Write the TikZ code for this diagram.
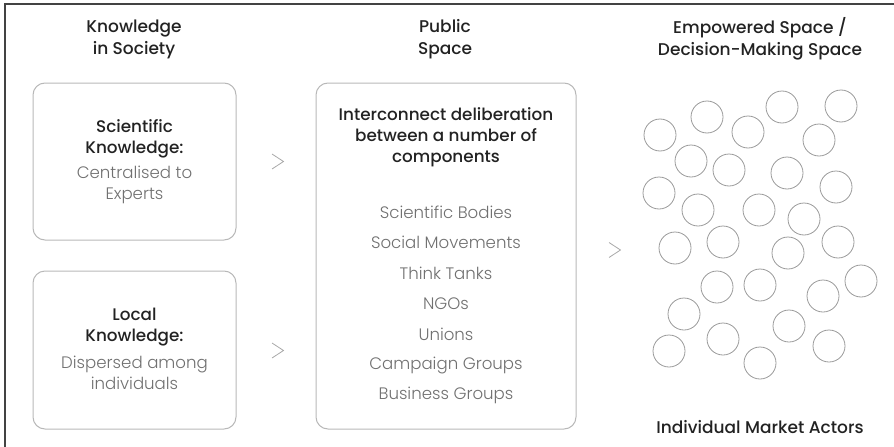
\documentclass[tikz,border=0pt]{standalone}
\usepackage{fontspec}
\setmainfont{Poppins}[UprightFont={Poppins Light},BoldFont={Poppins Medium}]
\definecolor{ink}{HTML}{222222}
\definecolor{soft}{HTML}{707070}
\definecolor{boxline}{HTML}{B8B8B8}
\definecolor{ringline}{HTML}{9A9A9A}
\definecolor{chev}{HTML}{A8A8A8}
\begin{document}
\begin{tikzpicture}[x=1pt,y=-1pt,
  head/.style={text=ink,font=\bfseries\fontsize{17}{22}\selectfont,align=center,inner sep=0pt},
  bold/.style={text=ink,font=\bfseries\fontsize{16.8}{21}\selectfont,align=center,inner sep=0pt},
  grey/.style={text=soft,font=\fontsize{16.6}{20.5}\selectfont,align=center,inner sep=0pt},
  panel/.style={draw=boxline,line width=1pt,rounded corners=12pt},
  ring/.style={draw=ringline,line width=0.8pt,circle,minimum size=32pt,inner sep=0pt},
  chevron/.style={draw=chev,line width=0.8pt}]
\useasboundingbox (0,0) rectangle (894,447);
\draw[line width=1.6pt,color=ink!85] (5,447) -- (5,4) -- (894,4);
% headings
\node[head] (h1) at (134,39) {Knowledge\\in Society};
\node[head] (h2) at (445,39) {Public\\Space};
\node[head] (h3) at (760,38.5) {Empowered Space /\\Decision-Making Space};
% panels
\draw[panel] (33,83) rectangle (236,240);
\draw[panel] (33,271) rectangle (236,429);
\draw[panel] (316,83) rectangle (576,429);
% panel 1
\node[bold] (s1) at (134.5,139) {Scientific\\Knowledge:};
\node[grey] (s2) at (134.5,185) {Centralised to\\Experts};
% panel 2
\node[bold] (l1) at (134.5,327) {Local\\Knowledge:};
\node[grey] (l2) at (134.5,373) {Dispersed among\\individuals};
% panel 3
\node[bold] (p1) at (446,137.5) {Interconnect deliberation\\between a number of\\components};
\foreach \t [count=\i from 0] in {Scientific Bodies,Social Movements,Think Tanks,NGOs,Unions,Campaign Groups,Business Groups}
  \node[grey] (g\i) at (446,212+30.6*\i) {\t};
% chevrons
\draw[chevron] (272,154) -- (283.5,161.5) -- (272,169);
\draw[chevron] (272,343) -- (283.5,350.5) -- (272,358);
\draw[chevron] (609,242.5) -- (620.5,250) -- (609,257.5);
% circles
\foreach \x/\y [count=\i] in {
  660/135,707/117,748/132,782/107,841/106,819/140,691/161,729/170,787/173,836/187,
  659/193,698/210,759/210,804/219,675/248,723/242,788/253,838/242,717/287,760/285,
  823/296,861/281,684/314,789/326,723/339,669/351,760/363,829/346}
  \node[ring] (c\i) at (\x,\y) {};
\node[head] (ma) at (760,427) {Individual Market Actors};
\end{tikzpicture}
\end{document}
